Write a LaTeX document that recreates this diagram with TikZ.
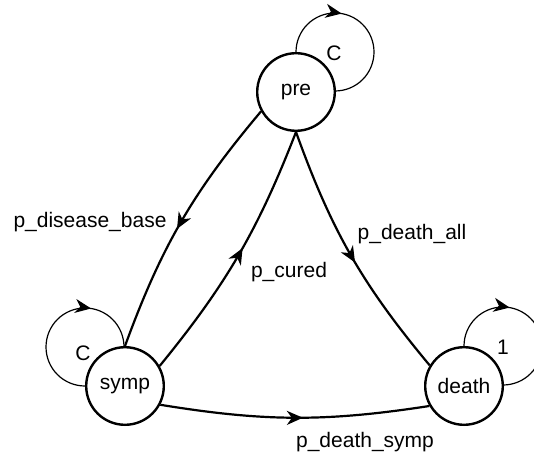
\documentclass[tikz,border=0pt]{standalone}
\usepackage{fontspec}
\setmainfont{Liberation Sans}
\usetikzlibrary{arrows.meta,decorations.markings}

\tikzset{
  state/.style={circle, draw, line width=2.4pt, minimum size=77.6pt, inner sep=0pt},
  trans/.style={line width=2.2pt, postaction={decorate},
    decoration={markings, mark=at position #1 with {\arrow{Stealth[length=16pt,width=14pt,inset=5pt]}}}},
  trans/.default=0.53,
  selfloop/.style={line width=1.2pt, postaction={decorate},
    decoration={markings, mark=at position #1 with {\arrow{Stealth[length=16pt,width=14pt,inset=5pt]}}}},
  lbl/.style={inner sep=0pt}
}

\begin{document}
\begin{tikzpicture}[x=1pt, y=1pt, font=\fontsize{21}{25}\selectfont]
  \useasboundingbox (0,0) rectangle (534,455);

  % the three states
  \node[state] (pre) at (296,363) {pre};
  \node[state] (symp) at (125,69) {symp};
  \node[state] (death) at (464,69) {death};

  % self loops
  \draw[selfloop=0.37] (pre.north) arc[start angle=180, end angle=-90, radius=39];
  \draw[selfloop=0.70] (symp.west) arc[start angle=270, end angle=0, radius=39];
  \draw[selfloop=0.37] (death.north) arc[start angle=180, end angle=-90, radius=39];

  \node[lbl] (preC) at (334,402) {C};
  \node[lbl] (sympC) at (83,102) {C};
  \node[lbl] (deathOne) at (503,108) {1};

  % transitions
  \draw[trans] (pre.209) to[bend right=10] (symp.north);
  \draw[trans] (symp.30) to[bend right=9] (pre.south);
  \draw[trans] (pre.south) to[bend right=10] (death.149);
  \draw[trans] (symp.-28) to[bend right=9] (death.210);

  \node[lbl] (lblDisease) at (90,233) {p\_disease\_base};
  \node[lbl] (lblCured) at (289,183) {p\_cured};
  \node[lbl] (lblDeathAll) at (412,221) {p\_death\_all};
  \node[lbl] (lblDeathSymp) at (365,13) {p\_death\_symp};
\end{tikzpicture}
\end{document}
